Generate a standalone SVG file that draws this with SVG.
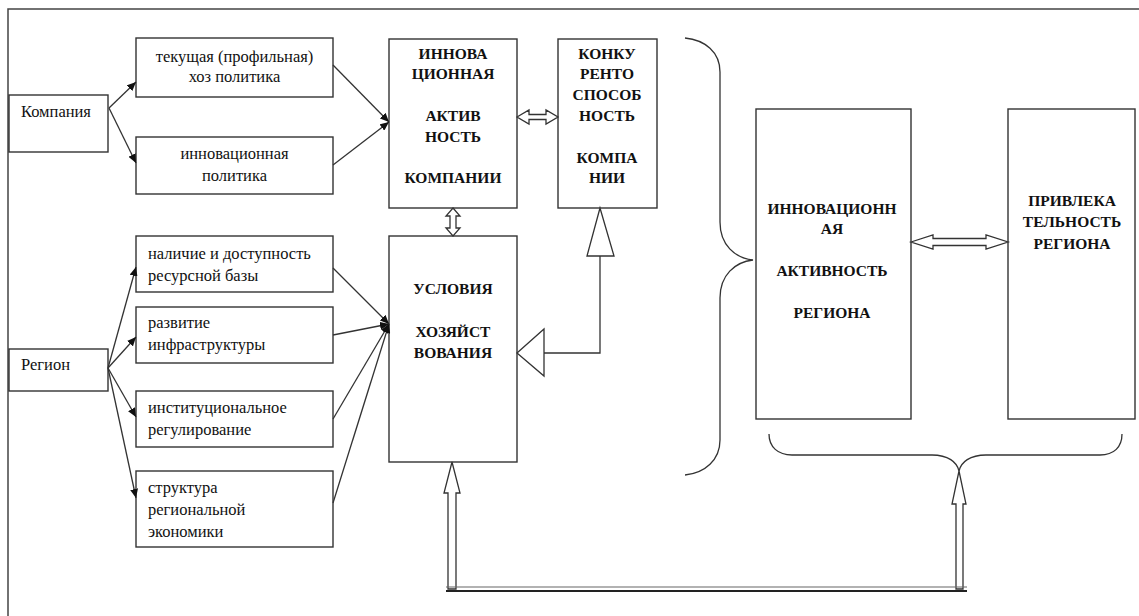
<svg xmlns="http://www.w3.org/2000/svg" width="1139" height="616" viewBox="0 0 1139 616">
<style>
.box{fill:#fff;stroke:#333;stroke-width:1.4}
.c{text-anchor:middle}
.ln{fill:none;stroke:#333;stroke-width:1.3}
.ar{fill:none;stroke:#333;stroke-width:1.3;marker-end:url(#ah)}
.hol{fill:#fff;stroke:#333;stroke-width:1.3}
</style>
<defs>
<marker id="ah" markerUnits="userSpaceOnUse" markerWidth="10" markerHeight="8" refX="9" refY="4" orient="auto">
<path d="M0,0 L9,4 L0,8 z" fill="#111"/>
</marker>
</defs>
<rect width="1139" height="616" fill="#fff"/>
<path d="M8,616 L8,9 L1139,9" fill="none" stroke="#444" stroke-width="1.5"/>

<g font-family="Liberation Serif, DejaVu Serif, serif" font-size="16.5" fill="#111">
<g id="kompaniya"><rect class="box" x="9" y="95" width="99" height="57"/><text x="21" y="117">Компания</text></g>
<g id="tekushchaya"><rect class="box" x="136" y="38" width="197" height="59"/><text class="c" x="234.5" y="62">текущая (профильная)</text><text class="c" x="234.5" y="82">хоз политика</text></g>
<g id="innov-politika"><rect class="box" x="136" y="137" width="197" height="57"/><text class="c" x="234.5" y="159">инновационная</text><text class="c" x="234.5" y="181">политика</text></g>
<g id="region"><rect class="box" x="9" y="349" width="99" height="42"/><text x="21" y="370">Регион</text></g>
<g id="nalichie"><rect class="box" x="136" y="236" width="197" height="56"/><text x="148" y="259">наличие и доступность</text><text x="148" y="281">ресурсной базы</text></g>
<g id="razvitie"><rect class="box" x="136" y="307" width="197" height="56"/><text x="148" y="328">развитие</text><text x="148" y="350">инфраструктуры</text></g>
<g id="institut"><rect class="box" x="136" y="391" width="197" height="56"/><text x="148" y="413">институциональное</text><text x="148" y="435">регулирование</text></g>
<g id="struktura"><rect class="box" x="136" y="471" width="197" height="76"/><text x="148" y="493">структура</text><text x="148" y="515">региональной</text><text x="148" y="537">экономики</text></g>
</g>

<g font-family="Liberation Serif, DejaVu Serif, serif" font-size="15.5" font-weight="bold" fill="#111" text-anchor="middle">
<g id="innov-aktivnost-kompanii"><rect class="box" x="389" y="39" width="128" height="169"/>
<text x="453" y="59">ИННОВА</text><text x="453" y="79">ЦИОННАЯ</text><text x="453" y="121">АКТИВ</text><text x="453" y="142">НОСТЬ</text><text x="453" y="183">КОМПАНИИ</text></g>
<g id="konkurentosposobnost"><rect class="box" x="558" y="39" width="99" height="169"/>
<text x="607" y="59">КОНКУ</text><text x="607" y="79">РЕНТО</text><text x="607" y="100">СПОСОБ</text><text x="607" y="121">НОСТЬ</text><text x="607" y="163">КОМПА</text><text x="607" y="183">НИИ</text></g>
<g id="usloviya"><rect class="box" x="389" y="236" width="128" height="226"/>
<text x="453" y="294">УСЛОВИЯ</text><text x="453" y="337">ХОЗЯЙСТ</text><text x="453" y="358">ВОВАНИЯ</text></g>
<g id="innov-aktivnost-regiona"><rect class="box" x="756" y="109" width="155" height="310"/>
<text x="832" y="214">ИННОВАЦИОНН</text><text x="832" y="234">АЯ</text><text x="832" y="276">АКТИВНОСТЬ</text><text x="832" y="318">РЕГИОНА</text></g>
<g id="privlekatelnost"><rect class="box" x="1008" y="109" width="127" height="310"/>
<text x="1072" y="206">ПРИВЛЕКА</text><text x="1072" y="227">ТЕЛЬНОСТЬ</text><text x="1072" y="249">РЕГИОНА</text></g>
</g>

<g id="connectors">
<line class="ar" x1="109" y1="108" x2="136" y2="82"/>
<line class="ar" x1="109" y1="108" x2="136" y2="163"/>
<line class="ar" x1="333" y1="65" x2="389" y2="122"/>
<line class="ar" x1="333" y1="165" x2="389" y2="122"/>
<line class="ar" x1="108" y1="368" x2="136" y2="267"/>
<line class="ar" x1="108" y1="368" x2="136" y2="337"/>
<line class="ar" x1="108" y1="368" x2="136" y2="417"/>
<line class="ar" x1="108" y1="368" x2="136" y2="498"/>
<line class="ar" x1="333" y1="268" x2="389" y2="324"/>
<line class="ar" x1="333" y1="335" x2="389" y2="324"/>
<line class="ar" x1="333" y1="419" x2="389" y2="324"/>
<line class="ar" x1="333" y1="503" x2="389" y2="324"/>
<polygon class="hol" points="517,117 529,110 529,114.5 546,114.5 546,110 558,117 546,124 546,119.5 529,119.5 529,124"/>
<polygon class="hol" points="453,208 460,216 456,216 456,228 460,228 453,236 446,228 450,228 450,216 446,216"/>
<polygon class="hol" points="911,242 933,235 933,238.5 986,238.5 986,235 1008,242 986,249 986,245.5 933,245.5 933,249"/>
<polyline class="ln" points="600,256 600,353 544,353"/>
<polygon class="hol" points="600,208 614,256 587,256"/>
<polygon class="hol" points="517,353 544,329 544,376"/>
<path class="ln" d="M685,38 C705,40 720,52 720,72 L720,222 C720,245 735,258 753,260 C735,262 720,275 720,298 L720,440 C720,460 705,473 685,475"/>
<path class="ln" d="M769,434 C769,447 778,455 792,455 L932,455 C948,455 957,462 959,471 C961,462 970,455 986,455 L1100,455 C1114,455 1122,447 1122,434"/>
<polygon class="hol" points="452,462 460,493 456,493 456,589 448,589 448,493 444,493"/>
<polygon class="hol" points="959,471 966,504 963,504 963,589 956,589 956,504 952,504"/>
<line x1="446" y1="587" x2="967" y2="587" stroke="#666" stroke-width="1.2"/>
<line x1="446" y1="591" x2="967" y2="591" stroke="#222" stroke-width="1.8"/>
</g>
</svg>
